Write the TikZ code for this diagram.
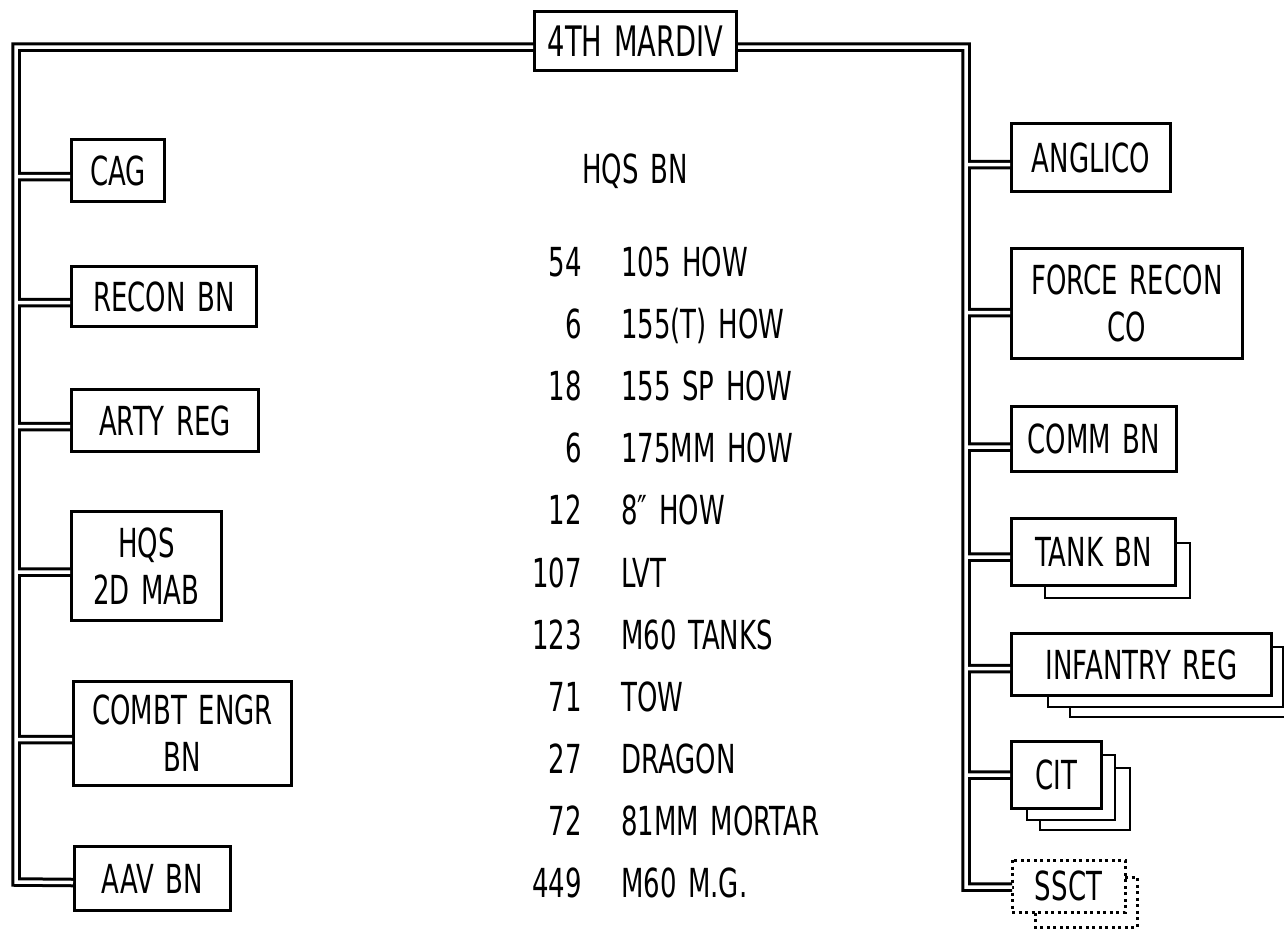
\documentclass[tikz,border=0pt]{standalone}
\usepackage{fontspec}
\setmainfont{DejaVu Sans}[FakeStretch=0.65, WordSpace=1.4]
\usetikzlibrary{calc}
\tikzset{
  unitbox/.style={draw, line width=3pt, inner sep=0pt, align=center, font=\fontsize{40}{47}\selectfont},
  conn/.style={double, double distance=3.5pt, line width=3pt},
  shadowline/.style={line width=2.5pt},
  dotline/.style={line width=3pt, dash pattern=on 3pt off 3.5pt},
  txt/.style={font=\fontsize{40}{47}\selectfont, inner sep=0pt}
}
\begin{document}
\begin{tikzpicture}[x=1pt, y=-1pt]
\fill[white] (0,0) rectangle (1284,930);
\useasboundingbox (0,0) rectangle (1284,930);

% top
\node[unitbox, minimum width=202, minimum height=59, font=\fontsize{42}{50}\selectfont] (mardiv) at (635.5,41) {4TH MARDIV};

% left column
\node[unitbox, minimum width=93,  minimum height=62]  (cag)   at (118,170.5) {CAG};
\node[unitbox, minimum width=185, minimum height=60]  (recon) at (164,296.5) {RECON BN};
\node[unitbox, minimum width=187, minimum height=62]  (arty)  at (165,420.5) {ARTY REG};
\node[unitbox, minimum width=150, minimum height=109] (hqs)   at (146.5,566) {HQS\\2D MAB};
\node[unitbox, minimum width=218, minimum height=104] (combt) at (182.5,733.5) {COMBT ENGR\\BN};
\node[unitbox, minimum width=156, minimum height=64]  (aav)   at (152.5,878.5) {AAV BN};

% right column
\node[unitbox, minimum width=159, minimum height=68]  (anglico) at (1091,157.5) {ANGLICO};
\node[unitbox, minimum width=231, minimum height=110] (force)   at (1127,303.5) {FORCE RECON\\CO};
\node[unitbox, minimum width=165, minimum height=65]  (comm)    at (1094,439) {COMM BN};
\node[unitbox, minimum width=164, minimum height=67]  (tank)    at (1093.5,552) {TANK BN};
\node[unitbox, minimum width=260, minimum height=62]  (inf)     at (1141.5,664.5) {INFANTRY REG};
\node[unitbox, minimum width=90,  minimum height=67]  (cit)     at (1056.5,775) {CIT};
\node[unitbox, draw=none, minimum width=110, minimum height=49] (ssct) at (1068.5,886) {SSCT};
\draw[dotline] (ssct.north west) rectangle (ssct.south east);

% stacked shadows
\draw[shadowline] ($(tank.north east)+(0,26)$) -- ($(tank.north east)+(13,26)$) -- ($(tank.south east)+(13,11)$) -- ($(tank.south west)+(35,11)$) -- ($(tank.south west)+(35,0)$);
\draw[shadowline] ($(inf.north east)+(0,15)$) -- ($(inf.north east)+(10,15)$) -- ($(inf.south east)+(10,10)$) -- ($(inf.south west)+(38,10)$) -- ($(inf.south west)+(38,0)$);
\draw[shadowline] ($(inf.north east)+(10,25)$) -- ($(inf.north east)+(24,25)$) -- ($(inf.south east)+(24,20)$) -- ($(inf.south west)+(60,20)$) -- ($(inf.south west)+(60,10)$);
\draw[shadowline] ($(cit.north east)+(0,15)$) -- ($(cit.north east)+(12,15)$) -- ($(cit.south east)+(12,10)$) -- ($(cit.south west)+(17,10)$) -- ($(cit.south west)+(17,0)$);
\draw[shadowline] ($(cit.north east)+(12,28)$) -- ($(cit.north east)+(27,28)$) -- ($(cit.south east)+(27,20)$) -- ($(cit.south west)+(30,20)$) -- ($(cit.south west)+(30,10)$);
\draw[dotline] ($(ssct.north east)+(0,17)$) -- ($(ssct.north east)+(12,17)$) -- ($(ssct.south east)+(12,15)$) -- ($(ssct.south west)+(23,15)$) -- ($(ssct.south west)+(23,0)$);

% spines
\coordinate (lbot) at (16,882);
\coordinate (rbot) at (966,887);
\draw[conn]
  ([yshift=-6pt]mardiv.west) -| (lbot) -- ([yshift=-4pt]aav.west)
  ([yshift=-6pt]cag.west) -- ([yshift=-6pt]cag.west -| lbot)
  ([yshift=-6pt]recon.west) -- ([yshift=-6pt]recon.west -| lbot)
  ([yshift=-6pt]arty.west) -- ([yshift=-6pt]arty.west -| lbot)
  ([yshift=-6pt]hqs.west) -- ([yshift=-6pt]hqs.west -| lbot)
  ([yshift=-6pt]combt.west) -- ([yshift=-6pt]combt.west -| lbot)
  ([yshift=-6pt]mardiv.east) -| (rbot) -- ([yshift=-1pt]ssct.west)
  ([yshift=-7pt]anglico.west) -- ([yshift=-7pt]anglico.west -| rbot)
  ([yshift=-9pt]force.west) -- ([yshift=-9pt]force.west -| rbot)
  ([yshift=-8pt]comm.west) -- ([yshift=-8pt]comm.west -| rbot)
  ([yshift=-5pt]tank.west) -- ([yshift=-5pt]tank.west -| rbot)
  ([yshift=-4pt]inf.west) -- ([yshift=-4pt]inf.west -| rbot)
  (cit.west) -- (cit.west -| rbot);

% middle list
\node[txt, anchor=base] (hqsbn) at (635,183) {HQS BN};
\foreach \n/\t [count=\i from 0] in {54/105 HOW, 6/155(T) HOW, 18/155 SP HOW, 6/175MM HOW, 12/8″ HOW, 107/LVT, 123/M60 TANKS, 71/TOW, 27/DRAGON, 72/81MM MORTAR, 449/M60 M.G.}{
  \node[txt, anchor=base east] (num\i) at (582, 276.5+62.1*\i) {\n};
  \node[txt, anchor=base west] (item\i) at (621, 276.5+62.1*\i) {\t};
}
\end{tikzpicture}
\end{document}
